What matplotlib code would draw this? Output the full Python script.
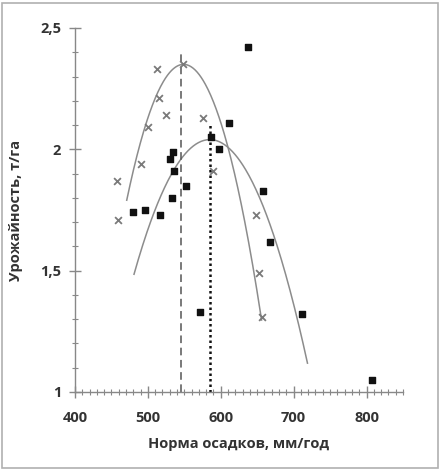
import numpy as np
import matplotlib
matplotlib.use('Agg')
import matplotlib.pyplot as plt
from matplotlib.patches import Rectangle
from matplotlib.ticker import MultipleLocator, FuncFormatter

plt.rcParams['font.family'] = ['Open Sans', 'DejaVu Sans']

# crosses (grey x markers)
cross_x = [548, 512, 515, 525, 500, 575, 490, 457, 589, 459, 648, 652, 656]
cross_y = [2.35, 2.33, 2.21, 2.14, 2.09, 2.13, 1.94, 1.87, 1.91, 1.71, 1.73, 1.49, 1.31]

# squares (black)
sq_x = [637, 612, 586, 597, 534, 531, 536, 552, 533, 479, 496, 516, 571, 658, 667, 712, 807]
sq_y = [2.42, 2.11, 2.05, 2.00, 1.99, 1.96, 1.91, 1.85, 1.80, 1.74, 1.75, 1.73, 1.33,
        1.83, 1.62, 1.32, 1.05]

# trend parabolas: (peak x, peak y, curvature, x from, x to)
cross_trend = (549, 2.35, 9.2e-5, 471, 656)
sq_trend = (585, 2.04, 5.13e-5, 481, 719)

# vertical marks at the optima
opt_cross = (545, 2.40)
opt_sq = (585, 2.10)

fig = plt.figure(figsize=(4.45, 4.74), dpi=100)
ax = fig.add_axes([0.1685, 0.173, 0.737, 0.768])

for xp, yp, a, x0, x1 in (cross_trend, sq_trend):
    xx = np.linspace(x0, x1, 200)
    ax.plot(xx, yp - a * (xx - xp) ** 2, color='#8c8c8c', lw=1.1, zorder=2)

ax.plot([opt_cross[0]] * 2, [1, opt_cross[1]], color='#555555', lw=1.1,
        ls=(0, (5, 3)), zorder=2)
ax.plot([opt_sq[0]] * 2, [1, opt_sq[1]], color='#111111', lw=1.8,
        ls=(0, (1, 1.2)), zorder=2)

ax.scatter(cross_x, cross_y, marker='x', s=24, color='#7a7a7a', linewidths=1.3, zorder=3)
ax.scatter(sq_x, sq_y, marker='s', s=20, color='#111111', zorder=3)

ax.set_xlim(400, 850)
ax.set_ylim(1, 2.5)
ax.xaxis.set_major_locator(MultipleLocator(100))
ax.xaxis.set_minor_locator(MultipleLocator(10))
ax.yaxis.set_major_locator(MultipleLocator(0.5))
ax.yaxis.set_minor_locator(MultipleLocator(0.1))
ax.xaxis.set_major_formatter(FuncFormatter(lambda v, p: f'{v:.0f}'))
ax.yaxis.set_major_formatter(FuncFormatter(lambda v, p: f'{v:g}'.replace('.', ',')))

for s in ('top', 'right'):
    ax.spines[s].set_visible(False)
for s in ('left', 'bottom'):
    ax.spines[s].set_color('#888888')
    ax.spines[s].set_linewidth(1.0)
ax.tick_params(which='major', direction='inout', length=8, width=1.0, color='#888888',
               labelsize=10.5, labelcolor='#333333')
ax.tick_params(which='minor', direction='inout', length=4, width=0.8, color='#888888')
ax.tick_params(axis='x', pad=10)
ax.tick_params(axis='y', pad=6)
for lab in ax.get_xticklabels() + ax.get_yticklabels():
    lab.set_fontweight('bold')

ax.set_xlabel('Норма осадков, мм/год', fontsize=10.5, fontweight='bold', color='#333333',
              labelpad=8)
ax.set_ylabel('Урожайность, т/га', fontsize=10.5, fontweight='bold', color='#333333',
              labelpad=12)

fig.patches.append(Rectangle((0.005, 0.012), 0.98, 0.982, transform=fig.transFigure,
                             fill=False, ec='#b0b0b0', lw=1.2))

fig.savefig('out.png', dpi=100)
